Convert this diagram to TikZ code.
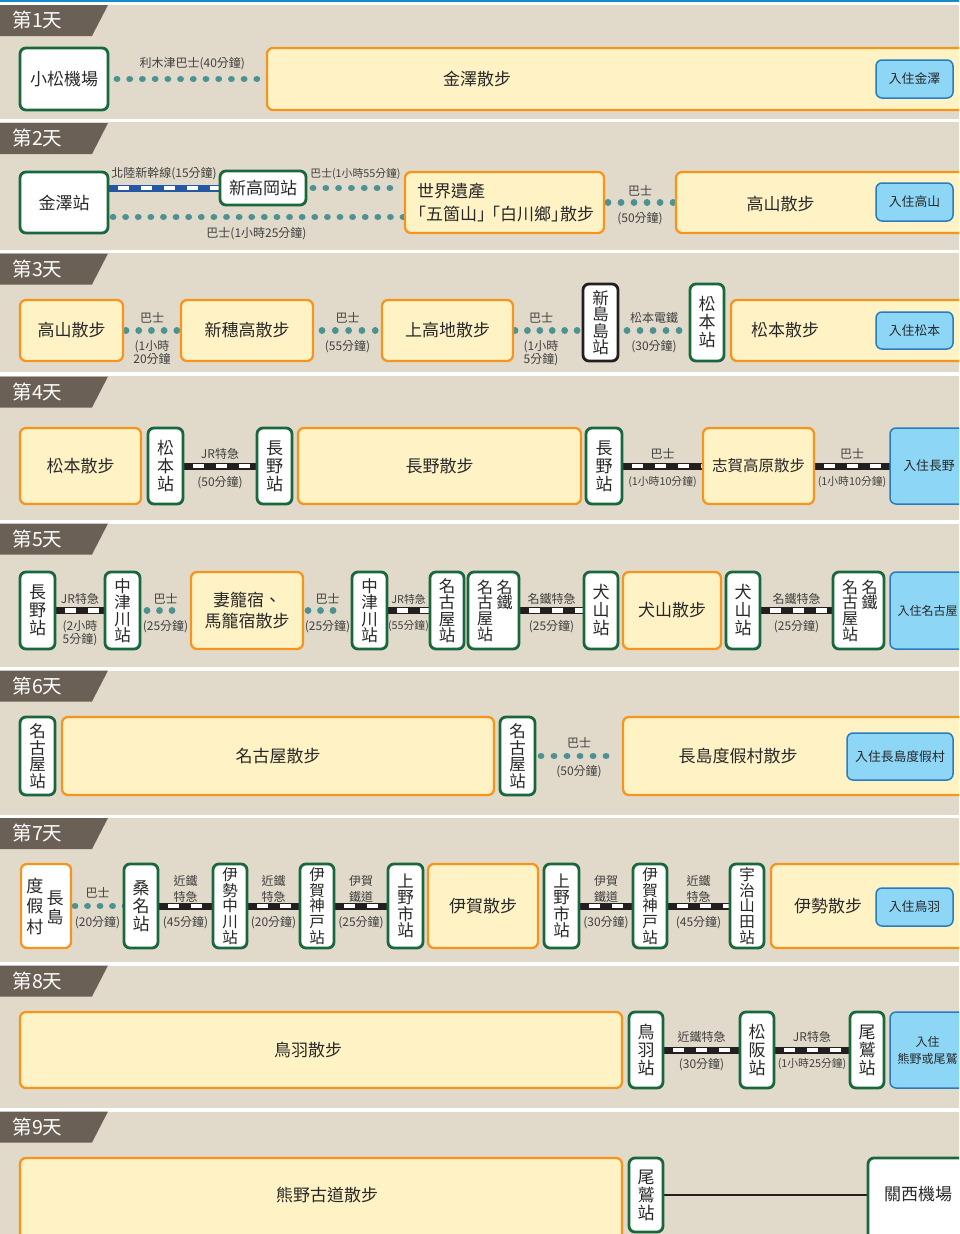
\documentclass[tikz,border=0pt]{standalone}
\usepackage{fontspec}
\setmainfont{Noto Sans CJK TC}
\usetikzlibrary{positioning,fit}
\pgfdeclarelayer{bg}
\pgfsetlayers{bg,main}

\definecolor{bgc}{RGB}{225,218,202}
\definecolor{tabc}{RGB}{107,96,85}
\definecolor{topblue}{RGB}{20,140,200}
\definecolor{wfill}{RGB}{255,243,198}
\definecolor{worange}{RGB}{247,148,30}
\definecolor{sgreen}{RGB}{24,104,60}
\definecolor{hfill}{RGB}{141,214,246}
\definecolor{hblue}{RGB}{40,124,192}
\definecolor{dotc}{RGB}{76,146,146}
\definecolor{railk}{RGB}{35,31,32}
\definecolor{railb}{RGB}{36,87,164}
\definecolor{txtc}{RGB}{40,40,40}
\definecolor{labc}{RGB}{64,64,64}

\begin{document}
\begin{tikzpicture}[x=1pt,y=-1pt,
stnbox/.style={draw=sgreen,fill=white,line width=2.8pt,rounded corners=6pt,inner sep=0pt,outer sep=0pt},
stxt/.style={inner sep=0pt,align=center,text=txtc,font=\fontsize{17}{18}\selectfont},
stn/.style={stnbox,label={[stxt]center:#1}},
stnfour/.style={stnbox,label={[stxt,font=\fontsize{16.5}{16.5}\selectfont]center:#1}},
stnfive/.style={stnbox,label={[stxt,font=\fontsize{15.5}{15.6}\selectfont]center:#1}},
walkbox/.style={draw=worange,fill=wfill,line width=2.3pt,rounded corners=6pt,inner sep=0pt,outer sep=0pt},
wtxt/.style={inner sep=0pt,align=center,text=txtc,font=\fontsize{17}{21}\selectfont},
walk/.style={walkbox,label={[wtxt]center:#1}},
hotelbox/.style={draw=hblue,fill=hfill,line width=1.5pt,rounded corners=6pt,inner sep=0pt,outer sep=0pt},
htxt/.style={inner sep=0pt,align=center,text=txtc,font=\fontsize{12.8}{17}\selectfont},
hotel/.style={hotelbox,label={[htxt]center:#1}},
col/.style={inner sep=0pt,align=center,text=txtc,font=\fontsize{16}{15.7}\selectfont},
lab/.style={inner sep=0pt,align=center,text=labc,font=\fontsize{12}{13}\selectfont},
lab2/.style={font=\fontsize{12}{16}\selectfont},
sm/.style={font=\fontsize{10.8}{13}\selectfont},
busdots/.style={draw=dotc,line width=6.8pt,line cap=round,dash pattern=on 0.01pt off #1},
busdots/.default=12.6pt,
rail/.style={draw=#1,line width=7pt,postaction={draw=white,line width=4.6pt,dash pattern=on 11pt off 12pt,dash phase=13pt}},
rail/.default=railk,
tabtxt/.style={text=white,inner sep=0pt,font=\fontsize{19.5}{19.5}\selectfont}]
\useasboundingbox (0,0) rectangle (959,1234);
\clip (0,0) rectangle (959,1234);

% background, day bands and tabs
\begin{pgfonlayer}{bg}
\fill[bgc] (0,0) rectangle (959,1234);
\fill[white] (0,0) rectangle (959,5);
\fill[topblue] (0,0) rectangle (959,1.8);
\foreach \sy in {118.5,249.5,372,520,667,814.5,962,1108}
  \fill[white] (0,\sy) rectangle (959,\sy+3.5);
\foreach \dn/\ty in {1/5,2/123,3/253.5,4/376.5,5/523.5,6/670.5,7/818,8/965.5,9/1111.5}
  \fill[tabc] (0,\ty) -- (108,\ty) -- (92,\ty+31) -- (0,\ty+31) -- cycle;
\end{pgfonlayer}
\foreach \dn/\ty in {1/5,2/123,3/253.5,4/376.5,5/523.5,6/670.5,7/818,8/965.5,9/1111.5}
  \node[tabtxt] (tab\dn) at (37.5,\ty+15.5) {第\dn{}天};

% day 1
\node[stn={小松機場}, fit={(20,48)(108,110)}] (komatsu) {};
\node[walkbox, fit={(267,48)(975,110)}, label={[wtxt,xshift=-144pt]center:金澤散步}] (kzwalk) {};
\node[hotel={入住金澤}, fit={(876,60)(953,98)}] (kzhotel) {};

% day 2
\node[stn={金澤站}, fit={(20,172)(108,233)}] (knz) {};
\node[stn={新高岡站}, fit={(220,171)(306,205)}] (sto) {};
\node[walkbox, fit={(405,172)(604,233)}, label={[wtxt,align=left,font=\fontsize{17}{23}\selectfont,xshift=1pt]center:世界遺產\\\hspace*{-8pt}「五箇山」\kern-11pt「白川鄉」\kern-8pt散步}] (wh) {};
\node[walkbox, fit={(676,172)(975,233)}, label={[wtxt,xshift=-45pt,yshift=-2pt]center:高山散步}] (tkyw) {};
\node[hotel={入住高山}, fit={(876,183)(953,221)}] (tkhotel) {};

% day 3
\node[walk={高山散步}, fit={(20,300)(123,361)}] (d3a) {};
\node[walk={新穗高散步}, fit={(181,300)(313,361)}] (d3b) {};
\node[walk={上高地散步}, fit={(382,300)(513,361)}] (d3c) {};
\node[stnfour={新\\島\\島\\站}, draw=railk, fit={(583,284)(618,361)}] (d3d) {};
\node[stn={松\\本\\站}, fit={(690,284)(724,361)}] (d3e) {};
\node[walkbox, fit={(731,300)(975,361)}, label={[wtxt,xshift=-68pt]center:松本散步}] (d3f) {};
\node[hotel={入住松本}, fit={(876,312)(953,349)}] (d3h) {};

% day 4
\node[walk={松本散步}, fit={(20,428)(141,504)}] (d4a) {};
\node[stn={松\\本\\站}, fit={(148,428)(183,504)}] (d4b) {};
\node[stn={長\\野\\站}, fit={(257,428)(292,504)}] (d4c) {};
\node[walk={長野散步}, fit={(298,428)(581,504)}] (d4d) {};
\node[stn={長\\野\\站}, fit={(586,428)(622,504)}] (d4e) {};
\node[walkbox, fit={(703,428)(814,504)}, label={[wtxt,font=\fontsize{15.5}{18}\selectfont]center:志賀高原散步}] (d4f) {};
\node[hotel={入住長野}, fit={(890,428)(968,504)}] (d4g) {};

% day 5
\node[stn={長\\野\\站}, fit={(20,572)(55,649)}] (d5a) {};
\node[stnfour={中\\津\\川\\站}, fit={(105,572)(140,649)}] (d5b) {};
\node[walk={妻籠宿、\\馬籠宿散步}, fit={(191,572)(303,649)}] (d5c) {};
\node[stnfour={中\\津\\川\\站}, fit={(352,572)(387,649)}] (d5d) {};
\node[stnfour={名\\古\\屋\\站}, fit={(430,572)(464,649)}] (d5e) {};
\node[stnbox, fit={(468,572)(519,649)}, label={[col,xshift=-8.5pt]center:名\\古\\屋\\站}, label={[col,xshift=11pt,yshift=15.7pt]center:名\\鐵}] (d5f) {};
\node[stn={犬\\山\\站}, fit={(584,572)(618,649)}] (d5g) {};
\node[walk={犬山散步}, fit={(623,572)(721,649)}] (d5h) {};
\node[stn={犬\\山\\站}, fit={(726,572)(760,649)}] (d5i) {};
\node[stnbox, fit={(833,572)(884,649)}, label={[col,xshift=-8.5pt]center:名\\古\\屋\\站}, label={[col,xshift=11pt,yshift=15.7pt]center:名\\鐵}] (d5j) {};
\node[hotelbox, fit={(890,572)(970,649)}, label={[htxt,font=\fontsize{12}{17}\selectfont,xshift=-2.5pt]center:入住名古屋}] (d5k) {};

% day 6
\node[stnfour={名\\古\\屋\\站}, fit={(20,717)(55,795)}] (d6a) {};
\node[walk={名古屋散步}, fit={(62,717)(494,795)}] (d6b) {};
\node[stnfour={名\\古\\屋\\站}, fit={(500,717)(535,795)}] (d6c) {};
\node[walkbox, fit={(623,717)(975,795)}, label={[wtxt,xshift=-61pt]center:長島度假村散步}] (d6d) {};
\node[hotel={入住長島度假村}, fit={(847,733)(953,780)}] (d6e) {};

% day 7
\node[stnbox, draw=worange, line width=2.3pt, fit={(21,864)(71,948)}, label={[col,font=\fontsize{17}{20.5}\selectfont,xshift=-11pt]center:度\\假\\村}, label={[col,font=\fontsize{17}{19}\selectfont,xshift=9pt,yshift=-1.5pt]center:長\\島}] (d7a) {};
\node[stn={桑\\名\\站}, fit={(124,864)(158,948)}] (d7b) {};
\node[stnfive={伊\\勢\\中\\川\\站}, fit={(213,864)(247,948)}] (d7c) {};
\node[stnfive={伊\\賀\\神\\戸\\站}, fit={(300,864)(334,948)}] (d7d) {};
\node[stnfour={上\\野\\市\\站}, fit={(388,864)(423,948)}] (d7e) {};
\node[walk={伊賀散步}, fit={(428,864)(538,948)}] (d7f) {};
\node[stnfour={上\\野\\市\\站}, fit={(544,864)(579,948)}] (d7g) {};
\node[stnfive={伊\\賀\\神\\戸\\站}, fit={(633,864)(667,948)}] (d7h) {};
\node[stnfive={宇\\治\\山\\田\\站}, fit={(730,864)(764,948)}] (d7i) {};
\node[walkbox, fit={(771,864)(975,948)}, label={[wtxt,xshift=-45pt]center:伊勢散步}] (d7j) {};
\node[hotel={入住鳥羽}, fit={(876,888)(953,926)}] (d7k) {};

% day 8
\node[walkbox, fit={(20,1012)(622,1088)}, label={[wtxt,xshift=-13pt]center:鳥羽散步}] (d8a) {};
\node[stn={鳥\\羽\\站}, fit={(629,1012)(663,1088)}] (d8b) {};
\node[stn={松\\阪\\站}, fit={(740,1012)(774,1088)}] (d8c) {};
\node[stn={尾\\鷲\\站}, fit={(850,1012)(884,1088)}] (d8d) {};
\node[hotelbox, fit={(890,1012)(969,1088)}, label={[htxt,font=\fontsize{12}{17}\selectfont,xshift=-2pt]center:入住\\熊野或尾鷲}] (d8e) {};

% day 9
\node[walkbox, fit={(20,1158)(622,1245)}, label={[wtxt,xshift=6pt,yshift=6.5pt]center:熊野古道散步}] (d9a) {};
\node[stn={尾\\鷲\\站}, fit={(629,1158)(663,1232)}] (d9b) {};
\node[stnbox, fit={(868,1158)(975,1245)}, label={[stxt,xshift=-3.5pt,yshift=7.5pt]center:關西機場}] (d9c) {};

% connectors
\begin{pgfonlayer}{bg}
\draw[busdots=12.7pt, shorten <=9pt, shorten >=8pt] (komatsu) -- node[lab, above=5.5pt, pos=.53]{利木津巴士(40分鐘)} (kzwalk);

\draw[rail=railb] ([yshift=14.5pt]knz.east) -- node[lab, above=4.5pt]{北陸新幹線(15分鐘)} (sto.west);
\draw[busdots=12.8pt, shorten <=7pt, shorten >=13pt] (sto) -- node[lab, sm, above=5pt]{巴士(1小時55分鐘)} (sto -| wh.west);
\draw[busdots=12.6pt, shorten <=5pt, shorten >=0pt] ([yshift=-14.5pt]knz.east) -- node[lab, below=7pt]{巴士(1小時25分鐘)} ([yshift=-14.5pt]wh.west);
\draw[busdots=13pt, shorten <=4pt, shorten >=1pt] (wh) -- node[lab, above=2.5pt]{巴士} node[lab, below=6.8pt]{(50分鐘)} (tkyw);

\draw[busdots=12.7pt, shorten <=3pt, shorten >=2pt] (d3a) -- node[lab, above=3.5pt]{巴士} node[lab, below=6.8pt]{(1小時\\20分鐘} (d3b);
\draw[busdots=13.3pt, shorten <=9pt, shorten >=5pt] (d3b) -- node[lab, above=3.5pt]{巴士} node[lab, below=6.8pt]{(55分鐘)} (d3c);
\draw[busdots=12.4pt, shorten <=2pt, shorten >=4pt] (d3c) -- node[lab, above=3.5pt, pos=.4]{巴士} node[lab, below=6.8pt, pos=.4]{(1小時\\5分鐘)} (d3c -| d3d.west);
\draw[busdots=13pt, shorten <=9pt, shorten >=9pt] (d3d.east |- d3c) -- node[lab, above=3.5pt]{松本電鐵} node[lab, below=6.8pt]{(30分鐘)} (d3e.west |- d3c);

\draw[rail] (d4b) -- node[lab, above=3pt]{JR特急} node[lab, below=7.3pt]{(50分鐘)} (d4c);
\draw[rail] (d4e) -- node[lab, above=3pt]{巴士} node[lab, sm, below=7.3pt]{(1小時10分鐘)} (d4f);
\draw[rail] (d4f) -- node[lab, above=3pt]{巴士} node[lab, sm, below=7.3pt]{(1小時10分鐘)} (d4g);

\draw[rail] (d5a) -- node[lab, above=2.5pt]{JR特急} node[lab, below=6.8pt]{(2小時\\5分鐘)} (d5b);
\draw[busdots=12.5pt, shorten <=7pt, shorten >=17pt] (d5b) -- node[lab, above=2.5pt]{巴士} node[lab, below=6.8pt]{(25分鐘)} (d5c);
\draw[busdots=12.5pt, shorten <=5pt, shorten >=17pt] (d5c) -- node[lab, above=2.5pt]{巴士} node[lab, below=6.8pt]{(25分鐘)} (d5d);
\draw[rail] (d5d) -- node[lab, sm, above=2.5pt]{JR特急} node[lab, sm, below=6.8pt]{(55分鐘)} (d5e);
\draw[rail] (d5f) -- node[lab, above=2.5pt]{名鐵特急} node[lab, below=6.8pt]{(25分鐘)} (d5g);
\draw[rail] (d5i) -- node[lab, above=2.5pt]{名鐵特急} node[lab, below=6.8pt]{(25分鐘)} (d5j);

\draw[busdots=13pt, shorten <=6pt, shorten >=15pt] (d6c) -- node[lab, above=4pt]{巴士} node[lab, below=6.3pt]{(50分鐘)} (d6d);

\draw[busdots=12.5pt, shorten <=4pt, shorten >=-3pt] (d7a) -- node[lab, above=4pt]{巴士} node[lab, below=7.3pt]{(20分鐘)} (d7b);
\draw[rail] (d7b) -- node[lab, lab2, above=0pt]{近鐵\\特急} node[lab, below=7.3pt]{(45分鐘)} (d7c);
\draw[rail] (d7c) -- node[lab, lab2, above=0pt]{近鐵\\特急} node[lab, below=7.3pt]{(20分鐘)} (d7d);
\draw[rail] (d7d) -- node[lab, lab2, above=0pt]{伊賀\\鐵道} node[lab, below=7.3pt]{(25分鐘)} (d7e);
\draw[rail] (d7g) -- node[lab, lab2, above=0pt]{伊賀\\鐵道} node[lab, below=7.3pt]{(30分鐘)} (d7h);
\draw[rail] (d7h) -- node[lab, lab2, above=0pt]{近鐵\\特急} node[lab, below=7.3pt]{(45分鐘)} (d7i);

\draw[rail] (d8b) -- node[lab, above=4pt]{近鐵特急} node[lab, below=5.3pt]{(30分鐘)} (d8c);
\draw[rail] (d8c) -- node[lab, above=4pt]{JR特急} node[lab, sm, below=5.3pt]{(1小時25分鐘)} (d8d);

\draw[railk, line width=1.8pt] (d9b) -- (d9b -| d9c.west);
\end{pgfonlayer}
\end{tikzpicture}
\end{document}
